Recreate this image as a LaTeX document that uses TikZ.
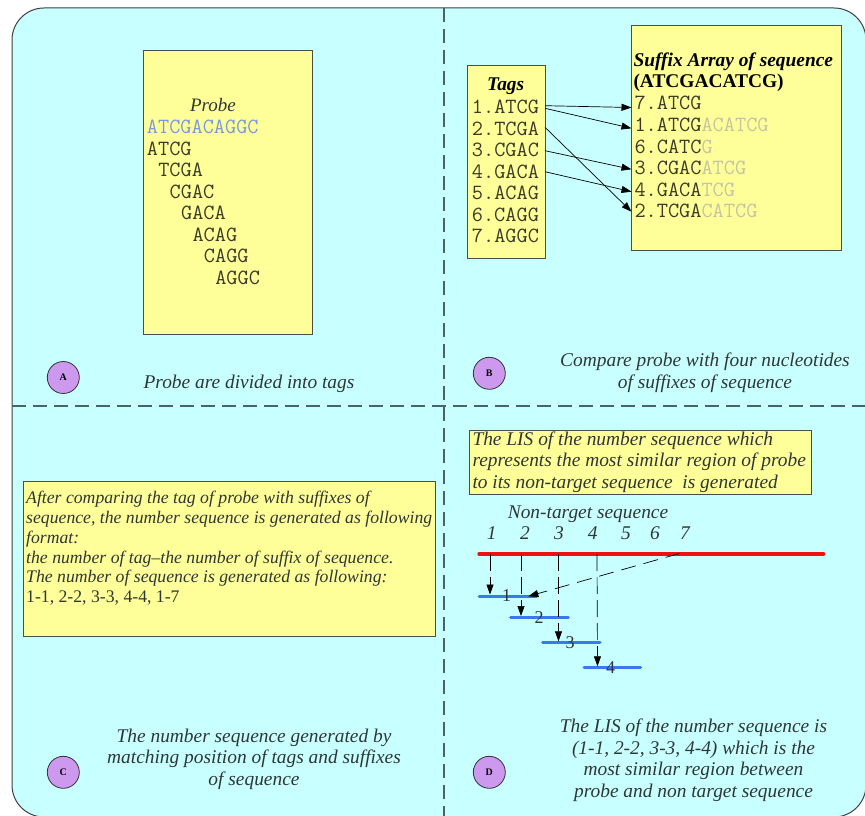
\documentclass[tikz,border=0pt]{standalone}
\usepackage{fontspec}
\setmainfont{Liberation Serif}
\usetikzlibrary{arrows.meta}
\definecolor{bgc}{HTML}{C8FFFF}
\definecolor{boxy}{HTML}{FFFF99}
\definecolor{circ}{HTML}{CC99EE}
\definecolor{seqc}{HTML}{3A3A28}
\definecolor{probec}{HTML}{7B9AD8}
\definecolor{fade}{HTML}{C4C4A4}
\definecolor{dashc}{HTML}{4A6464}
\definecolor{txtc}{HTML}{2E3636}
\definecolor{redl}{HTML}{EE1111}
\definecolor{bluel}{HTML}{3A78F0}
\begin{document}
\begin{tikzpicture}[x=1pt,y=-1pt,
  panel/.style={draw=black!70, fill=boxy, line width=0.8pt, inner sep=0pt},
  mono/.style={font=\fontsize{21.7}{21.7}\selectfont\ttfamily, text=seqc, anchor=base west, inner sep=0pt},
  ital/.style={font=\fontsize{19.4}{21.5}\selectfont\itshape, text=txtc, inner sep=0pt},
  badge/.style={circle, draw=black!80, fill=circ, minimum size=32pt, inner sep=0pt, line width=0.8pt, font=\fontsize{10}{10}\selectfont\bfseries},
  sepline/.style={draw=dashc, line width=1.2pt, dash pattern=on 14pt off 7pt},
  ptr/.style={-{Triangle[length=10pt,width=7pt]}, line width=0.7pt, black},
  dptr/.style={ptr, dash pattern=on 17pt off 6pt},
]
\useasboundingbox (0,0) rectangle (865,816);
\draw[fill=bgc, draw=black!75, line width=1pt, rounded corners=32pt] (12,8) rectangle (866,817);
\draw[sepline] (12,406) -- (866,406);
\draw[sepline] (444,8) -- (444,816);

% ---------- Panel A
\node[panel, anchor=north west, minimum width=169pt, minimum height=284pt] (probebox) at (143,50) {};
\node[ital, font=\fontsize{19}{19}\selectfont\itshape, anchor=base] (probet) at (213,111.7) {Probe};
\node[mono, text=probec] (pseq) at (146.7,133.5) {ATCGACAGGC};
\node[mono] (p1) at (146.7,155) {ATCG};
\node[mono] (p2) at (158.1,176.5) {TCGA};
\node[mono] (p3) at (169.5,198) {CGAC};
\node[mono] (p4) at (180.9,219.5) {GACA};
\node[mono] (p5) at (192.3,241) {ACAG};
\node[mono] (p6) at (203.7,262.5) {CAGG};
\node[mono] (p7) at (215.1,284) {AGGC};
\node[badge] (ca) at (63.3,377.5) {A};
\node[ital, anchor=base] (capa) at (249,388.3) {Probe are divided into tags};

% ---------- Panel B
\node[panel, anchor=north west, minimum width=78pt, minimum height=193pt] (tagbox) at (467,65) {};
\node[ital, font=\fontsize{19.4}{19.4}\selectfont\bfseries\itshape, anchor=base, text=black] (tagt) at (505.7,90) {Tags};
\node[mono] (t1) at (471.7,113.3) {1.ATCG};
\node[mono] (t2) at (471.7,135) {2.TCGA};
\node[mono] (t3) at (471.7,156.7) {3.CGAC};
\node[mono] (t4) at (471.7,178.3) {4.GACA};
\node[mono] (t5) at (471.7,199.8) {5.ACAG};
\node[mono] (t6) at (471.7,221.3) {6.CAGG};
\node[mono] (t7) at (471.7,242.8) {7.AGGC};
\node[panel, anchor=north west, minimum width=210pt, minimum height=225pt] (sufbox) at (631,25) {};
\node[ital, font=\fontsize{19.4}{19.4}\selectfont\bfseries\itshape, anchor=base west, text=black] (suft) at (633.3,66.7) {Suffix Array of sequence};
\node[ital, font=\fontsize{19.4}{19.4}\selectfont\bfseries, anchor=base west, text=black] (sufs) at (633.3,87.5) {(ATCGACATCG)};
\node[mono] (s7) at (634.3,110) {7.ATCG};
\node[mono] (s1) at (634.3,131.6) {1.ATCG\textcolor{fade}{ACATCG}};
\node[mono] (s6) at (634.3,153) {6.CATC\textcolor{fade}{G}};
\node[mono] (s3) at (634.3,174.5) {3.CGAC\textcolor{fade}{ATCG}};
\node[mono] (s4) at (634.3,196) {4.GACA\textcolor{fade}{TCG}};
\node[mono] (s2) at (634.3,217.6) {2.TCGA\textcolor{fade}{CATCG}};
\coordinate (t1a) at (545,105.7);
\coordinate (t1b) at (545,108.3);
\coordinate (t2a) at (545,127.3);
\coordinate (t3a) at (545,150.7);
\coordinate (t4a) at (545,171.7);
\coordinate (s7a) at (631.5,107.5);
\coordinate (s1a) at (631.5,128.3);
\coordinate (s2a) at (631.5,211.7);
\coordinate (s3a) at (631.5,169.3);
\coordinate (s4a) at (631.5,191.7);
\draw[ptr] (t1a) -- (s7a);
\draw[ptr] (t1b) -- (s1a);
\draw[ptr] (t2a) -- (s2a);
\draw[ptr] (t3a) -- (s3a);
\draw[ptr] (t4a) -- (s4a);
\node[badge] (cb) at (489.3,373.3) {B};
\node[ital, anchor=base, align=center] (capb) at (705,388) {Compare probe with four nucleotides\\of suffixes of sequence};

% ---------- Panel C
\node[panel, anchor=north west, minimum width=411.7pt, minimum height=154.7pt] (cbox) at (23.3,481) {};
\node[ital, font=\fontsize{17.7}{19.85}\selectfont\itshape, anchor=base west, align=left] (ctext) at (26,602.7)
 {After comparing the tag of probe with suffixes of\\
  sequence, the number sequence is generated as following\\
  format:\\
  the number of tag--the number of suffix of sequence.\\
  The number of sequence is generated as following:\\
  {\upshape 1-1, 2-2, 3-3, 4-4, 1-7}};
\node[badge] (cc) at (63.3,772.3) {C};
\node[ital, anchor=base, align=center] (capc) at (254,785) {The number sequence generated by\\matching position of tags and suffixes\\of sequence};

% ---------- Panel D
\node[panel, anchor=north west, minimum width=341.7pt, minimum height=64pt] (dbox) at (469.3,430) {};
\node[ital, font=\fontsize{19.4}{21.65}\selectfont\itshape, anchor=base west, align=left] (dtext) at (472.3,488.3)
 {The LIS of the number sequence which\\
  represents the most similar region of probe\\
  to its non-target sequence \ is generated};
\node[ital, anchor=base] (ntt) at (588,518.3) {Non-target sequence};
\node[ital, anchor=base] (n1) at (491.7,539.3) {1};
\node[ital, anchor=base] (n2) at (525,539.3) {2};
\node[ital, anchor=base] (n3) at (559,539.3) {3};
\node[ital, anchor=base] (n4) at (592.7,539.3) {4};
\node[ital, anchor=base] (n5) at (626,539.3) {5};
\node[ital, anchor=base] (n6) at (655,539.3) {6};
\node[ital, anchor=base] (n7) at (685,539.3) {7};
\coordinate (rl) at (479.3,554);
\coordinate (rr) at (823.3,554);
\draw[redl, line width=4pt, line cap=round] (rl) -- (rr);
\coordinate (b1l) at (479,596); \coordinate (b1r) at (536.7,596);
\coordinate (b2l) at (510.7,617.3); \coordinate (b2r) at (568.3,617.3);
\coordinate (b3l) at (542.7,642.7); \coordinate (b3r) at (600,642.7);
\coordinate (b4l) at (584,667.7); \coordinate (b4r) at (640.7,667.7);
\foreach \i in {1,...,4} \draw[bluel, line width=3pt, line cap=round] (b\i l) -- (b\i r);
\node[ital, font=\fontsize{18}{18}\selectfont, anchor=base] (l1) at (506.7,601.7) {1};
\node[ital, font=\fontsize{18}{18}\selectfont, anchor=base] (l2) at (539,623.3) {2};
\node[ital, font=\fontsize{18}{18}\selectfont, anchor=base] (l3) at (570,648.3) {3};
\node[ital, font=\fontsize{18}{18}\selectfont, anchor=base] (l4) at (610.7,673.3) {4};
\coordinate (v1t) at (490,554); \coordinate (v1b) at (490,594.5);
\coordinate (v2t) at (521,554); \coordinate (v2b) at (521,616);
\coordinate (v3t) at (558.5,554); \coordinate (v3b) at (558.5,641.3);
\coordinate (v4t) at (597,554); \coordinate (v4b) at (597.5,666.3);
\foreach \i in {1,...,4} \draw[dptr] (v\i t) -- (v\i b);
\coordinate (d7) at (680,553.3);
\coordinate (d1) at (528.3,596.3);
\draw[ptr, dash pattern=on 15pt off 8pt] (d7) -- (d1);
\node[badge] (cd) at (489.3,772.3) {D};
\node[ital, anchor=base, align=center] (capd) at (693.5,797.3) {The LIS of the number sequence is\\(1-1, 2-2, 3-3, 4-4) which is the\\most similar region between\\probe and non target sequence};
\end{tikzpicture}
\end{document}
